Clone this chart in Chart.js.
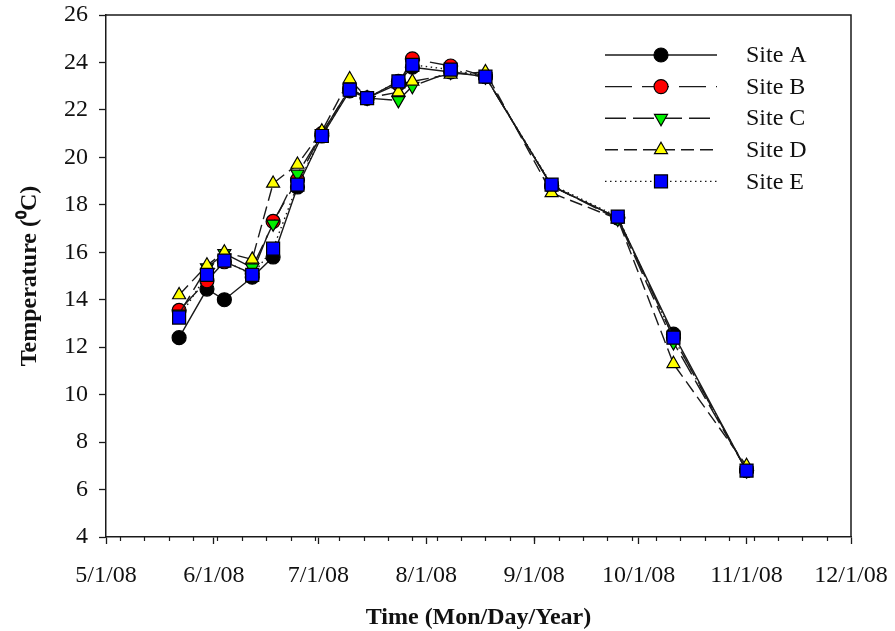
<!DOCTYPE html>
<html>
<head>
<meta charset="utf-8">
<title>Temperature by site</title>
<script src="https://cdn.jsdelivr.net/npm/chart.js@4.4.1/dist/chart.umd.min.js"></script>
<style>
  body { margin: 0; background: #fff; }
  #wrap { width: 895px; height: 631px; }
</style>
</head>
<body>
<div id="wrap"><canvas id="myChart" width="895" height="631"></canvas></div>
<script>
// sampling dates and water temperature (°C)
const dates = ['5/22/08', '5/30/08', '6/4/08', '6/12/08', '6/18/08', '6/25/08', '7/2/08', '7/10/08', '7/15/08',
               '7/24/08', '7/28/08', '8/8/08', '8/18/08', '9/6/08', '9/25/08', '10/11/08', '11/1/08'];
const siteA = [12.4, 14.45, 14.0, 14.95, 15.8, 18.75, 20.9, 22.8, 22.5, 23.2, 23.8, 23.6, 23.4, 18.8, 17.45, 12.55, 6.8];
const siteB = [13.55, 14.8, 15.6, 15.1, 17.3, 19.05, 21.0, 22.9, 22.5, 23.1, 24.15, 23.85, 23.4, 18.8, 17.45, 12.4, 6.8];
const siteC = [13.4, 15.35, 15.95, 15.35, 17.2, 19.3, 21.0, 22.9, 22.5, 22.4, 23.0, 23.6, 23.4, 18.8, 17.4, 12.2, 6.8];
const siteD = [14.2, 15.45, 16.0, 15.7, 18.9, 19.7, 21.1, 23.3, 22.5, 22.75, 23.2, 23.5, 23.6, 18.5, 17.4, 11.3, 7.0];
const siteE = [13.25, 15.05, 15.65, 15.05, 16.15, 18.85, 20.9, 22.85, 22.5, 23.2, 23.9, 23.7, 23.4, 18.85, 17.5, 12.4, 6.8];

// x axis labels (first of each month) and y range
const monthLabels = ['5/1/08', '6/1/08', '7/1/08', '8/1/08', '9/1/08', '10/1/08', '11/1/08', '12/1/08'];
const yMin = 4, yMax = 26, yStep = 2;

// days since 5/1/08
function dayOf(s) {
    const p = s.split('/');
    const d = new Date(2000 + Number(p[2]), Number(p[0]) - 1, Number(p[1]));
    return Math.round((d - new Date(2008, 4, 1)) / 86400000);
}
const monthDays = monthLabels.map(dayOf);
const xDays = dates.map(dayOf);

// weekly minor ticks (Mondays)
const minorDays = [];
for (let d = dayOf('5/5/08'); d < monthDays[monthDays.length - 1]; d += 7) minorDays.push(d);

const serif = "'Liberation Serif', 'Times New Roman', serif";
const ink = '#1a1a1a';

function series(label, values, fill, style, dash, radius, rotation, order) {
    return {
        label: label,
        data: values.map((v, i) => ({ x: xDays[i], y: v })),
        borderColor: ink,
        borderWidth: 1.4,
        borderDash: dash,
        backgroundColor: fill,
        pointStyle: style,
        pointRadius: radius,
        pointHoverRadius: radius,
        pointRotation: rotation,
        pointBackgroundColor: fill,
        pointBorderColor: '#000',
        pointBorderWidth: 1.2,
        tension: 0,
        fill: false,
        order: order
    };
}

const datasets = [
    series('Site A', siteA, '#000000', 'circle', [], 7, 0, 5),
    series('Site B', siteB, '#ff0000', 'circle', [27, 10], 7, 0, 4),
    series('Site C', siteC, '#00ee00', 'triangle', [21, 7], 7.5, 180, 3),
    series('Site D', siteD, '#ffff00', 'triangle', [13, 6], 7.5, 0, 2),
    series('Site E', siteE, '#0000ff', 'rect', [1.5, 3.5], 9.2, 0, 1)
];

// top and right frame + weekly minor ticks
const framePlugin = {
    id: 'frame',
    afterDraw(chart) {
        const ctx = chart.ctx;
        const a = chart.chartArea;
        const x = chart.scales.x;
        ctx.save();
        ctx.strokeStyle = ink;
        ctx.lineWidth = 1.5;
        ctx.beginPath();
        ctx.moveTo(a.left, a.top);
        ctx.lineTo(a.right, a.top);
        ctx.lineTo(a.right, a.bottom);
        ctx.stroke();
        ctx.lineWidth = 1.2;
        ctx.beginPath();
        minorDays.forEach(d => {
            const px = Math.round(x.getPixelForValue(d)) + 0.5;
            ctx.moveTo(px, a.bottom);
            ctx.lineTo(px, a.bottom + 4);
        });
        ctx.stroke();
        ctx.restore();
    }
};

// legend with line sample + marker, top right inside the plot
const legendPlugin = {
    id: 'siteLegend',
    afterDraw(chart) {
        const ctx = chart.ctx;
        const a = chart.chartArea;
        const x0 = a.right - 246, x1 = a.right - 134, xm = a.right - 190, xt = a.right - 105;
        const y0 = a.top + 40, dy = 31.6;
        ctx.save();
        chart.data.datasets.forEach((ds, i) => {
            const y = y0 + i * dy;
            ctx.strokeStyle = ds.borderColor;
            ctx.lineWidth = ds.borderWidth;
            ctx.setLineDash(ds.borderDash);
            ctx.beginPath();
            ctx.moveTo(x0, y);
            ctx.lineTo(x1, y);
            ctx.stroke();
            ctx.setLineDash([]);
            ctx.fillStyle = ds.pointBackgroundColor;
            ctx.strokeStyle = ds.pointBorderColor;
            ctx.lineWidth = ds.pointBorderWidth;
            Chart.helpers.drawPoint(ctx, {
                pointStyle: ds.pointStyle,
                radius: ds.pointRadius,
                rotation: ds.pointRotation,
                borderWidth: ds.pointBorderWidth
            }, xm, y);
            ctx.fillStyle = '#111';
            ctx.font = '24px ' + serif;
            ctx.textBaseline = 'middle';
            ctx.textAlign = 'left';
            ctx.fillText(ds.label, xt, y + 1);
        });
        ctx.restore();
    }
};

const ctx = document.getElementById('myChart').getContext('2d');
const myChart = new Chart(ctx, {
    type: 'line',
    data: { datasets: datasets },
    options: {
        responsive: false,
        animation: false,
        events: [],
        layout: { padding: { left: 0, right: 44, top: 15, bottom: 0 } },
        plugins: {
            legend: { display: false },
            tooltip: { enabled: false }
        },
        scales: {
            x: {
                type: 'linear',
                min: monthDays[0],
                max: monthDays[monthDays.length - 1],
                afterBuildTicks: scale => { scale.ticks = monthDays.map(v => ({ value: v })); },
                afterFit: scale => {
                    scale.height = 94;
                    scale.paddingLeft = 0;
                    scale.paddingRight = 0;
                },
                ticks: {
                    autoSkip: false,
                    maxRotation: 0,
                    padding: 17,
                    color: '#111',
                    font: { family: serif, size: 24 },
                    callback: v => monthLabels[monthDays.indexOf(v)]
                },
                grid: { drawOnChartArea: false, tickLength: 7, tickColor: ink, tickWidth: 1.3 },
                border: { color: ink, width: 1.5 },
                title: {
                    display: true,
                    text: 'Time (Mon/Day/Year)',
                    color: '#111',
                    font: { family: serif, size: 24, weight: 'bold', lineHeight: 1 },
                    padding: { top: 0, bottom: 1 }
                }
            },
            y: {
                min: yMin,
                max: yMax,
                afterFit: scale => {
                    scale.width = 106;
                    scale.paddingTop = 0;
                    scale.paddingBottom = 0;
                },
                ticks: {
                    stepSize: yStep,
                    padding: 11,
                    color: '#111',
                    font: { family: serif, size: 24 }
                },
                grid: { drawOnChartArea: false, tickLength: 7, tickColor: ink, tickWidth: 1.3 },
                border: { color: ink, width: 1.5 },
                title: {
                    display: true,
                    text: 'Temperature (\u2070C)',
                    color: '#111',
                    font: { family: serif, size: 24, weight: 'bold', lineHeight: 1 },
                    padding: { top: 18, bottom: 0 }
                }
            }
        }
    },
    plugins: [framePlugin, legendPlugin]
});
</script>
</body>
</html>
